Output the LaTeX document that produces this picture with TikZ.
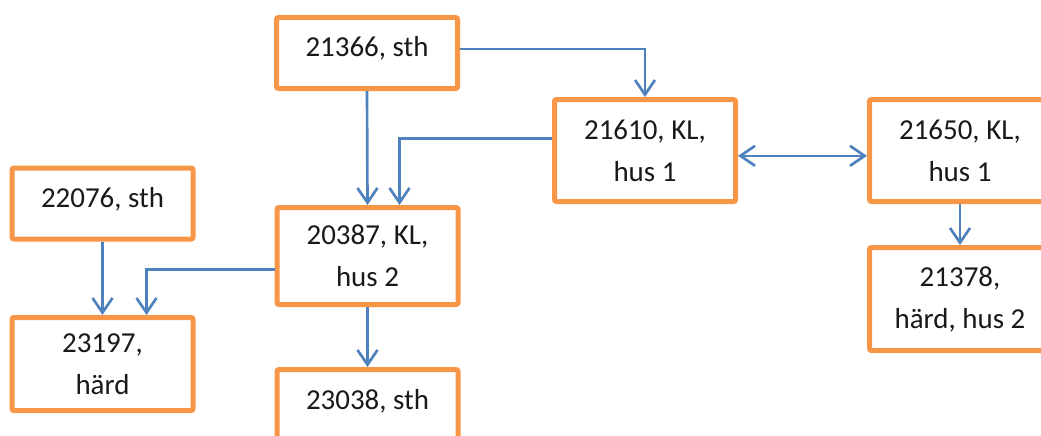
\documentclass[tikz,border=0pt]{standalone}
\usepackage{fontspec}
\setmainfont{Carlito}
\usepackage{tikz}
\usetikzlibrary{arrows.meta}

\begin{document}
\begin{tikzpicture}[x=0.75pt,y=0.75pt,yscale=-1,xscale=1,
        box/.style={draw={rgb,255:red,247;green,150;blue,70},line width=3.75pt,rounded corners=1.5pt,
            fill=white,inner sep=0pt,minimum width=135.75pt,align=center,
            font=\fontsize{21.7}{31.5}\selectfont,text={rgb,255:red,25;green,25;blue,25}},
        onebox/.style={box,minimum height=53.25pt,text height=15pt,text depth=9pt},
        link/.style={draw={rgb,255:red,79;green,129;blue,189},line width=2pt,
            -{Straight Barb[length=11pt,width=15pt,line width=2pt]}},
        link2/.style={link,{Straight Barb[length=11pt,width=15pt,line width=2pt]}-{Straight Barb[length=11pt,width=15pt,line width=2pt]}}]
        \useasboundingbox (0,0) rectangle (1041,435);

        \node [onebox] (sth21366) at (367,53) {21366, sth};
        \node [box,minimum height=76.5pt] (kl21610) at (645,150.5) {21610, KL,\\hus 1};
        \node [box,minimum height=76.5pt] (kl21650) at (960,150.5) {21650, KL,\\hus 1};
        \node [box,minimum height=77.25pt] (hard21378) at (960,299) {21378,\\härd, hus 2};
        \node [onebox] (sth22076) at (102.5,203.5) {22076, sth};
        \node [box,minimum height=72.75pt] (kl20387) at (367.5,256) {20387, KL,\\hus 2};
        \node [box,minimum height=69.75pt] (hard23197) at (102.5,364) {23197,\\härd};
        \node [onebox] (sth23038) at (367.5,405) {23038, sth};

        \draw [link] (sth21366.south) -- (kl20387.north);
        \draw [link] ([yshift=-3pt]sth21366.east) -| (kl21610.north);
        \draw [link] ([yshift=-9pt]kl21610.west) -| ([xshift=24pt]kl20387.north);
        \draw [link2] ([yshift=4pt]kl21610.east) -- ([yshift=4pt]kl21650.west);
        \draw [link] (kl21650.south) -- (hard21378.north);
        \draw [link] (sth22076.south) -- (hard23197.north);
        \draw [link] ([yshift=10pt]kl20387.west) -| ([xshift=33pt]hard23197.north);
        \draw [link] (kl20387.south) -- (sth23038.north);
    \end{tikzpicture}
\end{document}
